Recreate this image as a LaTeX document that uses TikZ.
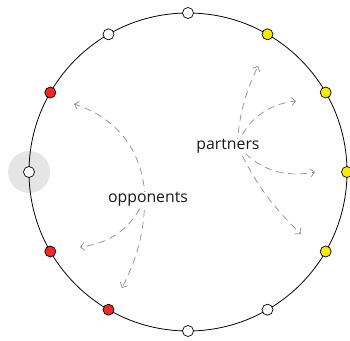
\documentclass[tikz,border=0pt]{standalone}
\usepackage{fontspec}
\setsansfont{Open Sans}
\usetikzlibrary{arrows.meta}
\definecolor{pred}{RGB}{240,40,40}
\definecolor{pyel}{RGB}{255,232,0}
\definecolor{halo}{RGB}{229,229,229}
\definecolor{arr}{RGB}{140,140,140}
\begin{document}
\begin{tikzpicture}[x=1pt,y=-1pt,
  seat/.style={circle,draw=black,line width=0.7pt,minimum size=11pt,inner sep=0pt},
  flow/.style={arr,line width=0.7pt,dash pattern=on 7pt off 5pt,-{Straight Barb[length=4pt,width=8pt]}},
  lab/.style={font=\sffamily\fontsize{15.8}{18}\selectfont,text=black!90,fill=white,inner sep=0.5pt}]
\useasboundingbox (0,0) rectangle (350,340);
\fill[halo] (29,172) circle (21);
\draw[line width=0.8pt] (188,172) circle (159);
\foreach \i/\c in {0/pyel,1/pyel,2/pyel,3/white,4/white,5/pred,6/white,7/pred,8/pred,9/white,10/white,11/pyel}{
  \node[seat,fill=\c] (p\i) at ({188+159*cos(30*\i)},{172-159*sin(30*\i)}) {};
}
\coordinate (ps) at (237,145);
\coordinate (os) at (145,198);
\coordinate (t1) at (258,66);
\coordinate (t2) at (296,101);
\coordinate (t3) at (315,172);
\coordinate (t4) at (301,234);
\coordinate (u1) at (74,104);
\coordinate (u2) at (80,247);
\coordinate (u3) at (122,288);
\draw[flow] (ps) to[bend left=10] (t1);
\draw[flow] (ps) to[bend left=30] (t2);
\draw[flow] (ps) to[bend right=30] (t3);
\draw[flow] (ps) to[bend right=10] (t4);
\draw[flow] (os) to[bend right=35] (u1);
\draw[flow] (os) to[bend left=30] (u2);
\draw[flow] (os) to[bend left=12] (u3);
\node[lab] (partners) at (228,146.5) {partners};
\node[lab] (opponents) at (148,199.5) {opponents};
\end{tikzpicture}
\end{document}
